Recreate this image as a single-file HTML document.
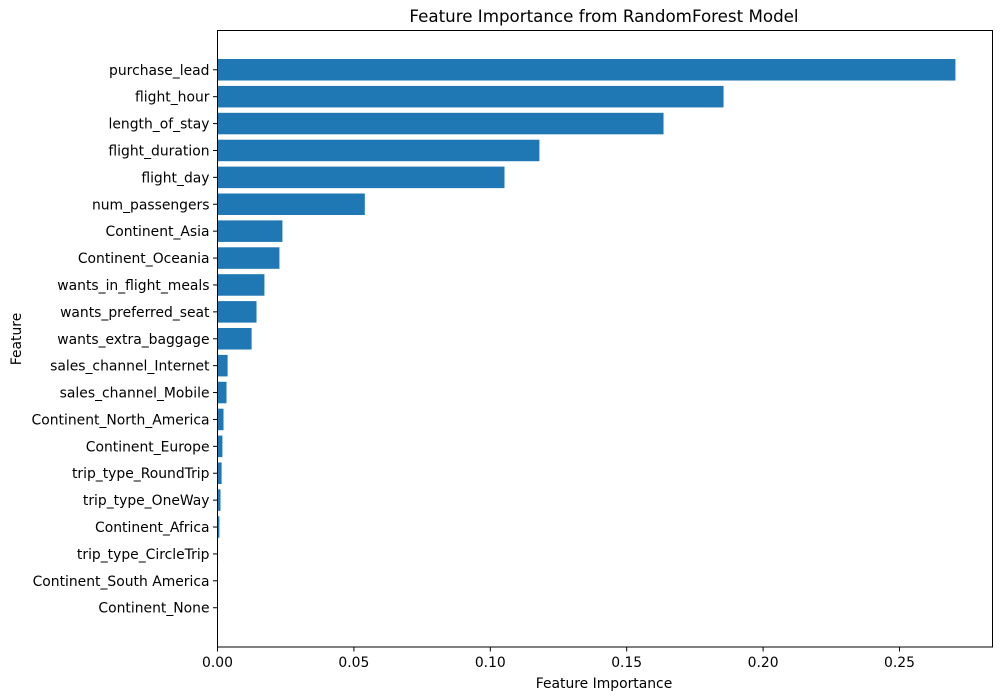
<!DOCTYPE html>
<html><head><meta charset="utf-8"><style>
html,body{margin:0;padding:0;background:#fff;}
svg{display:block;font-family:"DejaVu Sans","Liberation Sans",sans-serif;}
</style></head><body>
<svg id="chart" width="1002" height="699" viewBox="0 0 1002 699" xmlns="http://www.w3.org/2000/svg">
<rect width="1002" height="699" fill="#fff"/>
<text x="604" y="22" text-anchor="middle" font-size="16.7" fill="#000">Feature Importance from RandomForest Model</text>
<g id="bars"></g>
<g id="yticks"></g>
<g id="xticks"></g>
<rect x="217.5" y="30.5" width="775" height="616.5" fill="none" stroke="#000" stroke-width="1"/>
<text x="604" y="688" text-anchor="middle" font-size="13.9" fill="#000">Feature Importance</text>
<text x="0" y="0" transform="translate(21,339) rotate(-90)" text-anchor="middle" font-size="13.9" fill="#000">Feature</text>
</svg>
<script>
const features = ["purchase_lead","flight_hour","length_of_stay","flight_duration","flight_day","num_passengers","Continent_Asia","Continent_Oceania","wants_in_flight_meals","wants_preferred_seat","wants_extra_baggage","sales_channel_Internet","sales_channel_Mobile","Continent_North_America","Continent_Europe","trip_type_RoundTrip","trip_type_OneWay","Continent_Africa","trip_type_CircleTrip","Continent_South America","Continent_None"];
const importances = [0.2705,0.1855,0.1635,0.118,0.1052,0.054,0.0238,0.0227,0.0172,0.0143,0.0125,0.0037,0.0033,0.0022,0.0018,0.0015,0.0011,0.0007,0.0002,0.0001,0.00005];
const xTickValues = [0,0.05,0.1,0.15,0.2,0.25];
const xTickLabels = ["0.00","0.05","0.10","0.15","0.20","0.25"];

const NS="http://www.w3.org/2000/svg";
const X0=217.5, XPX=2728;
function xs(v){return X0+v*XPX;}
const YTOP=30.5, YBOT=647;
const st=(YBOT-YTOP)/22.92;
function ys(i){return YTOP+1.46*st+i*st;}
const bars=document.getElementById('bars');
const yt=document.getElementById('yticks');
const xt=document.getElementById('xticks');
features.forEach((f,i)=>{
  const cy=ys(i);
  const r=document.createElementNS(NS,'rect');
  r.setAttribute('x',X0);
  r.setAttribute('y',cy-0.4*st);
  r.setAttribute('width',Math.max(0,xs(importances[i])-X0));
  r.setAttribute('height',0.8*st);
  r.setAttribute('fill','#1f77b4');
  
  
  bars.appendChild(r);
  const l=document.createElementNS(NS,'line');
  l.setAttribute('x1',X0-4.5);l.setAttribute('x2',X0);
  l.setAttribute('y1',cy);l.setAttribute('y2',cy);
  l.setAttribute('stroke','#000');
  
  
  yt.appendChild(l);
  const t=document.createElementNS(NS,'text');
  t.setAttribute('x',X0-8);t.setAttribute('y',cy+5);
  t.setAttribute('text-anchor','end');t.setAttribute('font-size','13.9');
  t.textContent=f;
  
  
  yt.appendChild(t);
});
xTickValues.forEach((v,i)=>{
  const x=xs(v);
  const l=document.createElementNS(NS,'line');
  l.setAttribute('x1',x);l.setAttribute('x2',x);
  l.setAttribute('y1',YBOT);l.setAttribute('y2',YBOT+4.5);
  l.setAttribute('stroke','#000');
  
  
  xt.appendChild(l);
  const t=document.createElementNS(NS,'text');
  t.setAttribute('x',x);t.setAttribute('y',YBOT+20);
  t.setAttribute('text-anchor','middle');t.setAttribute('font-size','13.9');
  t.textContent=xTickLabels[i];
  
  
  xt.appendChild(t);
});
</script>
</body></html>
